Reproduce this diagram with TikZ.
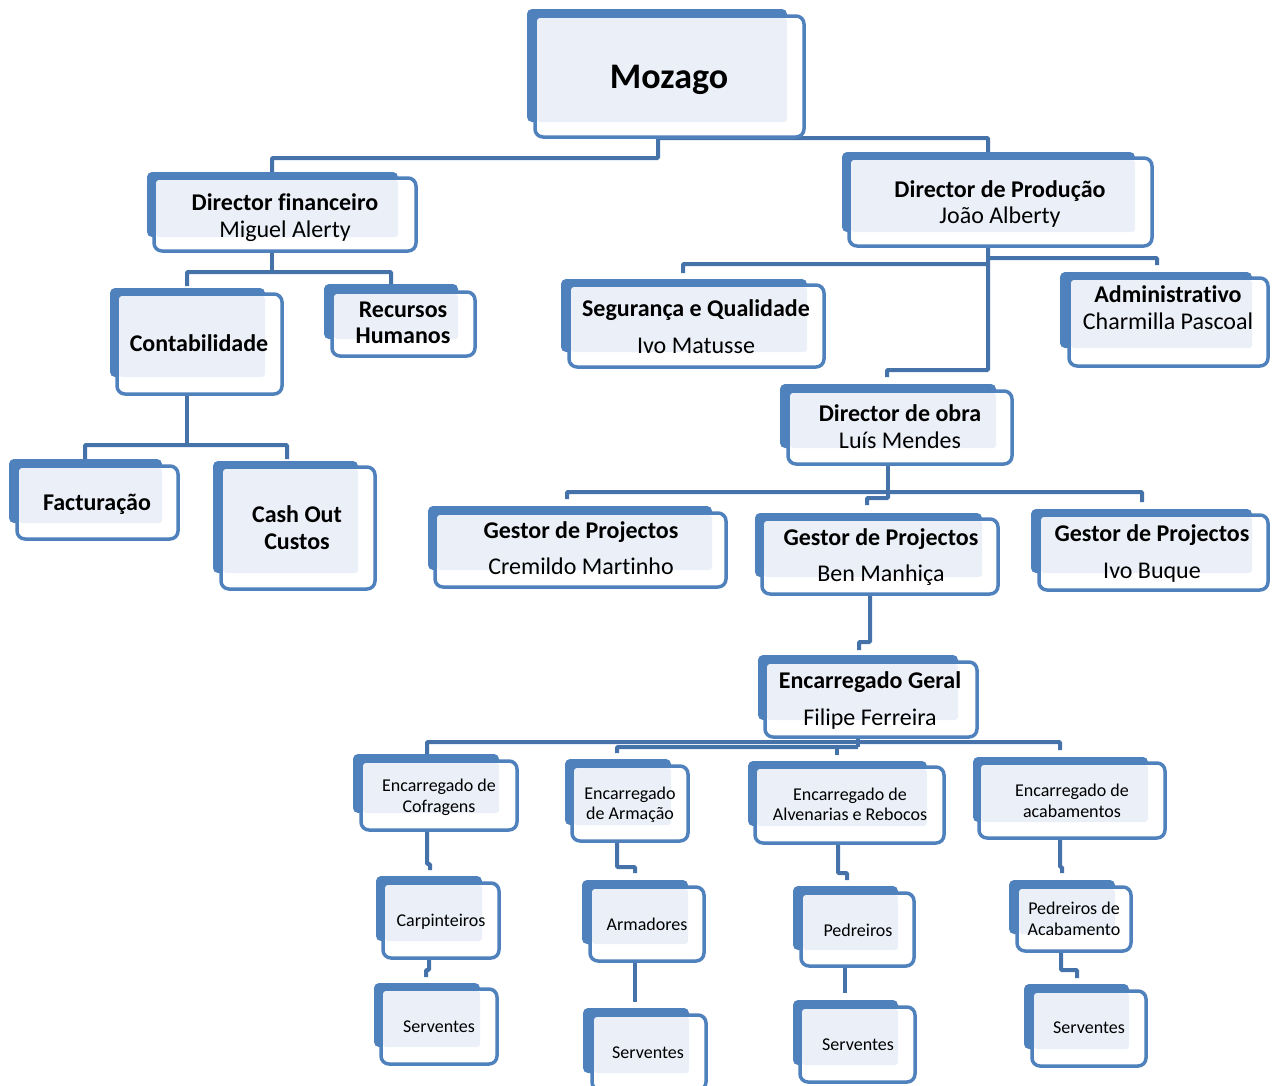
\documentclass[tikz,border=0pt]{standalone}
\usepackage{fontspec}
\setmainfont{Carlito}[Ligatures=NoCommon]
\usetikzlibrary{fit}
\pgfdeclarelayer{bottom}
\pgfdeclarelayer{lines}
\pgfsetlayers{bottom,lines,main}
\definecolor{boxblue}{HTML}{4F81BD}
\definecolor{lightfill}{HTML}{EBF0F8}
\definecolor{connblue}{HTML}{4672AA}
% #1 name, #2 #3 back top-left, #4 #5 back bottom-right, #6 #7 front top-left, #8 #9 front bottom-right
\newcommand\orgbox[9]{%
  \fill[boxblue, rounded corners=5] (#2,#3) rectangle (#4,#5);
  \draw[boxblue, line width=3.5, fill=white, rounded corners=8] (#6,#7) rectangle (#8,#9);
  \fill[lightfill, rounded corners=3] (#6+2,#7+2) rectangle (#4,#5);
  \node[inner sep=0, fit={(#6,#7)(#8,#9)}] (#1) {};
}
\begin{document}
\begin{tikzpicture}[x=1pt, y=-1pt,
  conn/.style={connblue, line width=4, rounded corners=1},
  tn/.style={anchor=base, inner sep=0, font=\fontsize{24}{28}\selectfont},
  tb/.style={tn, font=\fontsize{24}{28}\selectfont\bfseries},
  ts/.style={anchor=base, inner sep=0, font=\fontsize{18}{21}\selectfont},
  tbig/.style={anchor=base, inner sep=0, font=\fontsize{36}{40}\selectfont\bfseries}]
\useasboundingbox (0,0) rectangle (1275,1085);
\begin{pgfonlayer}{bottom}
\fill[white] (0,0) rectangle (1275,1085);
\end{pgfonlayer}

% boxes
\orgbox{mozago}{527}{9}{787}{122}{535}{16}{804}{137}
\orgbox{dfin}{147}{172}{398}{237}{154}{178}{416}{251}
\orgbox{dprod}{842}{152}{1135}{232}{849}{158}{1152}{246}
\orgbox{contab}{110}{288}{265}{377}{117}{294}{282}{394}
\orgbox{rh}{324}{284}{458}{339}{332}{292}{475}{356}
\orgbox{seg}{561}{279}{807}{352}{569}{285}{824}{367}
\orgbox{admin}{1060}{272}{1252}{348}{1069}{278}{1268}{366}
\orgbox{dobra}{780}{384}{996}{448}{788}{391}{1012}{464}
\orgbox{fact}{9}{459}{162}{523}{17}{466}{178}{539}
\orgbox{cash}{213}{461}{358}{573}{221}{467}{375}{589}
\orgbox{gp1}{428}{506}{712}{570}{435}{513}{726}{587}
\orgbox{gp2}{755}{513}{982}{577}{762}{519}{998}{594}
\orgbox{gp3}{1031}{509}{1252}{573}{1039}{515}{1268}{590}
\orgbox{eg}{758}{655}{958}{720}{765}{662}{977}{737}
\orgbox{ecof}{353}{754}{499}{813}{361}{761}{517}{830}
\orgbox{earm}{565}{759}{671}{825}{572}{766}{688}{841}
\orgbox{ealv}{748}{761}{927}{826}{755}{767}{944}{843}
\orgbox{eacab}{973}{757}{1148}{822}{979}{763}{1165}{838}
\orgbox{carp}{376}{876}{482}{941}{383}{883}{499}{958}
\orgbox{arm}{582}{880}{688}{944}{590}{887}{704}{961}
\orgbox{ped}{793}{886}{898}{950}{801}{893}{914}{966}
\orgbox{pacab}{1009}{880}{1115}{934}{1017}{887}{1131}{951}
\orgbox{serv1}{374}{983}{480}{1047}{381}{989}{497}{1064}
\orgbox{serv2}{583}{1008}{689}{1073}{592}{1015}{706}{1090}
\orgbox{serv3}{793}{1000}{898}{1065}{800}{1007}{915}{1082}
\orgbox{serv4}{1024}{984}{1129}{1049}{1032}{991}{1146}{1066}

% texts
\node[tbig] (tmoz) at (669,88) {Mozago};
\node[tb] (tdf1) at (285,210) {Director financeiro};
\node[tn] (tdf2) at (285,237) {Miguel Alerty};
\node[tb] (tdp1) at (1000,197) {Director de Produção};
\node[tn] (tdp2) at (1000,223) {João Alberty};
\node[tb] (tcon) at (199,351) {Contabilidade};
\node[tb] (trh1) at (403,317) {Recursos};
\node[tb] (trh2) at (403,343) {Humanos};
\node[tb] (tseg1) at (696,316) {Segurança e Qualidade};
\node[tn] (tseg2) at (696,353) {Ivo Matusse};
\node[tb] (tadm1) at (1168,302) {Administrativo};
\node[tn] (tadm2) at (1168,329) {Charmilla Pascoal};
\node[tb] (tdo1) at (900,421) {Director de obra};
\node[tn] (tdo2) at (900,448) {Luís Mendes};
\node[tb] (tfac) at (97,510) {Facturação};
\node[tb] (tcash1) at (297,522) {Cash Out};
\node[tb] (tcash2) at (297,549) {Custos};
\node[tb] (tg1a) at (581,538) {Gestor de Projectos};
\node[tn] (tg1b) at (581,574) {Cremildo Martinho};
\node[tb] (tg2a) at (881,545) {Gestor de Projectos};
\node[tn] (tg2b) at (881,581) {Ben Manhiça};
\node[tb] (tg3a) at (1152,541) {Gestor de Projectos};
\node[tn] (tg3b) at (1152,578) {Ivo Buque};
\node[tb] (teg1) at (870,688) {Encarregado Geral};
\node[tn] (teg2) at (870,725) {Filipe Ferreira};
\node[ts] (tcof1) at (439,791) {Encarregado de};
\node[ts] (tcof2) at (439,812) {Cofragens};
\node[ts] (tarm1) at (630,799) {Encarregado};
\node[ts] (tarm2) at (630,819) {de Armação};
\node[ts] (talv1) at (850,800) {Encarregado de};
\node[ts] (talv2) at (850,820) {Alvenarias e Rebocos};
\node[ts] (tac1) at (1072,796) {Encarregado de};
\node[ts] (tac2) at (1072,817) {acabamentos};
\node[ts] (tcarp) at (441,926) {Carpinteiros};
\node[ts] (tarmd) at (647,930) {Armadores};
\node[ts] (tped) at (858,936) {Pedreiros};
\node[ts] (tpa1) at (1074,914) {Pedreiros de};
\node[ts] (tpa2) at (1074,935) {Acabamento};
\node[ts] (ts1) at (439,1032) {Serventes};
\node[ts] (ts2) at (648,1058) {Serventes};
\node[ts] (ts3) at (858,1050) {Serventes};
\node[ts] (ts4) at (1089,1033) {Serventes};

% connectors (behind the boxes)
\begin{pgfonlayer}{lines}
\draw[conn] (mozago.south -| 658,0) -- (658,158) -- (272,158) -- (dfin.north -| 272,0);
\draw[conn] (658,138) -- (988,138) -- (dprod.north -| 988,0);
\draw[conn] (dfin.south -| 272,0) -- (272,272);
\draw[conn] (187,286) -- (187,272) -- (391,272) -- (391,285);
\draw[conn] (contab.south -| 187,0) -- (187,445);
\draw[conn] (85,459) -- (85,445) -- (287,445) -- (287,459);
\draw[conn] (dprod.south -| 988,0) -- (988,370) -- (887,370) -- (887,377);
\draw[conn] (988,264) -- (683,264) -- (683,273);
\draw[conn] (988,258) -- (1157,258) -- (1157,265);
\draw[conn] (dobra.south -| 888,0) -- (888,492);
\draw[conn] (567,499) -- (567,492) -- (1142,492) -- (1142,502);
\draw[conn] (888,492) -- (888,498) -- (867,498) -- (867,505);
\draw[conn] (gp2.south -| 870,0) -- (870,642) -- (859,642) -- (859,650);
\draw[conn] (eg.south -| 858,0) -- (858,747);
\draw[conn] (427,754) -- (427,742) -- (1060,742) -- (1060,750);
\draw[conn] (617,753) -- (617,747) -- (858,747);
\draw[conn] (837,747) -- (837,755);
\draw[conn] (ecof.south -| 427,0) -- (427,864) -- (430,864) -- (430,870);
\draw[conn] (earm.south -| 617,0) -- (617,867) -- (635,867) -- (635,873);
\draw[conn] (ealv.south -| 838,0) -- (838,873) -- (847,873) -- (847,880);
\draw[conn] (eacab.south -| 1060,0) -- (1060,867) -- (1062,867) -- (1062,873);
\draw[conn] (carp.south -| 429,0) -- (429,970) -- (426,970) -- (426,977);
\draw[conn] (arm.south -| 635,0) -- (635,1002);
\draw[conn] (ped.south -| 845,0) -- (845,993);
\draw[conn] (pacab.south -| 1061,0) -- (1061,970) -- (1077,970) -- (1077,978);
\end{pgfonlayer}
\end{tikzpicture}
\end{document}
